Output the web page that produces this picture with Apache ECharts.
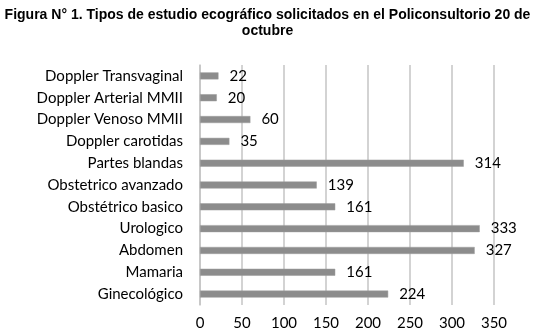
<!DOCTYPE html>
<html>
<head>
<meta charset="utf-8">
<script src="https://cdn.jsdelivr.net/npm/echarts@6/dist/echarts.min.js"></script>
<style>
  html, body { margin: 0; padding: 0; background: #fff; }
  #chart { width: 535px; height: 336px; }
</style>
</head>
<body>
<div id="chart"></div>
<script>
// categories from bottom to top (yAxis category order)
var categories = ['Ginecológico', 'Mamaria', 'Abdomen', 'Urologico', 'Obstétrico basico',
  'Obstetrico avanzado', 'Partes blandas', 'Doppler carotidas', 'Doppler Venoso MMII',
  'Doppler Arterial MMII', 'Doppler Transvaginal'];
var values = [224, 161, 327, 333, 161, 139, 314, 35, 60, 20, 22];
var xTicks = [0, 50, 100, 150, 200, 250, 300, 350];

var labelFont = 'Lato';

var chart = echarts.init(document.getElementById('chart'), null, { renderer: 'canvas' });
chart.setOption({
  animation: false,
  title: {
    text: 'Figura N° 1. Tipos de estudio ecográfico solicitados en el Policonsultorio 20 de\noctubre',
    left: 'center',
    top: 2,
    textStyle: {
      fontFamily: 'Liberation Sans',
      fontWeight: 'bold',
      fontSize: 14,
      lineHeight: 16,
      color: '#000'
    }
  },
  grid: {
    left: 200,
    right: 41,
    top: 65,
    bottom: 31,
    containLabel: false
  },
  xAxis: {
    type: 'value',
    min: 0,
    max: 350,
    interval: 50,
    axisLine: { show: false },
    axisTick: { show: false },
    axisLabel: {
      color: '#000',
      fontFamily: labelFont,
      fontSize: 15,
      margin: 11,
      formatter: function (v) { return xTicks.indexOf(v) >= 0 ? String(v) : ''; }
    },
    splitLine: {
      show: true,
      lineStyle: { color: '#c4c4c4', width: 1.5 }
    }
  },
  yAxis: {
    type: 'category',
    data: categories,
    axisLine: { show: true, lineStyle: { color: '#c4c4c4', width: 1.5 } },
    axisTick: { show: false },
    axisLabel: {
      color: '#000',
      fontFamily: labelFont,
      fontSize: 15,
      margin: 17
    }
  },
  series: [{
    type: 'bar',
    data: values,
    barWidth: 7,
    itemStyle: {
      color: '#8c8c8c',
      borderColor: '#9c9c9c',
      borderWidth: 0.5
    },
    label: {
      show: true,
      position: 'right',
      distance: 11,
      color: '#000',
      fontFamily: labelFont,
      fontSize: 15
    }
  }]
});
</script>
</body>
</html>
